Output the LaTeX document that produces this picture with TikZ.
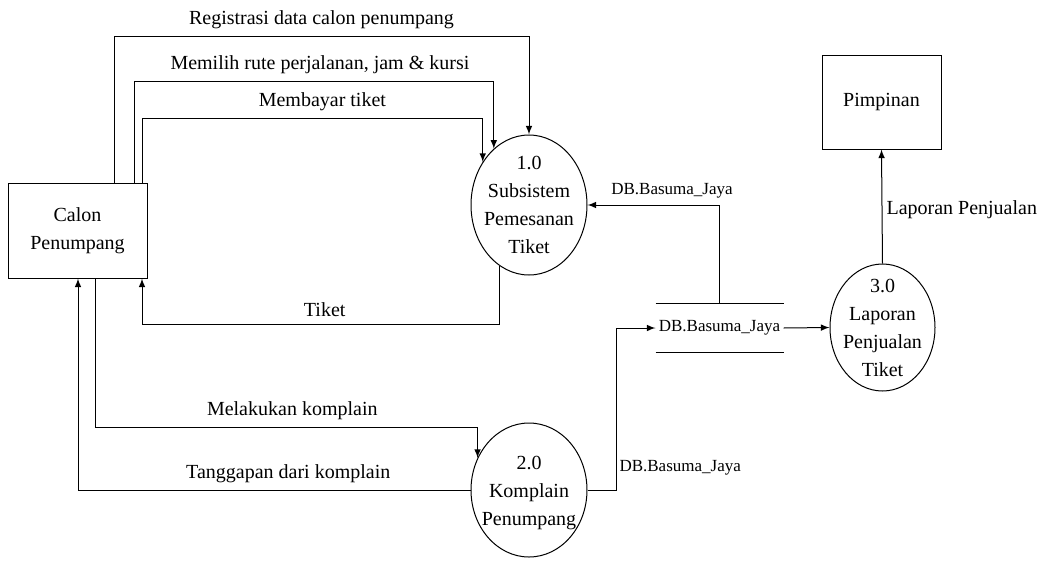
\documentclass[tikz,border=0pt]{standalone}
\usepackage{fontspec}
\setmainfont{Liberation Serif}
\usetikzlibrary{arrows,shapes.geometric}

\begin{document}
\begin{tikzpicture}[>=latex, x=0.5pt, y=-0.5pt, line width=0.5pt,
	font=\fontsize{10}{14}\selectfont,
	entitas/.style={draw, align=center, minimum width=69.5pt, minimum height=47.5pt},
	proses/.style={draw, ellipse, inner sep=0pt},
	kecil/.style={font=\fontsize{8.5}{10}\selectfont}]
	\useasboundingbox (0,0) rectangle (1040,563);
	%Entitas luar
	\node [entitas] (cp) at (77.5,230.5) {Calon\\Penumpang};
	\node [entitas, minimum width=59.5pt, minimum height=47pt] (pim) at (881.5,102) {Pimpinan};
	%Proses
	\node [proses, minimum width=58pt, minimum height=70pt] (p1) at (529,205) {};
	\node [align=center] (t1) at (p1) {1.0\\Subsistem\\Pemesanan\\Tiket};
	\node [proses, minimum width=58pt, minimum height=67pt] (p2) at (529,490) {};
	\node [align=center] (t2) at (529,493) {2.0\\Komplain\\Penumpang};
	\node [proses, minimum width=52.5pt, minimum height=63.5pt] (p3) at (882.5,327.5) {};
	\node [align=center] (t3) at (p3) {3.0\\Laporan\\Penjualan\\Tiket};
	%Data store
	\node [kecil, minimum width=63.5pt, minimum height=24pt, inner sep=0pt] (ds) at (719.5,328) {DB.Basuma\_Jaya};
	\draw (ds.north west) -- (ds.north east) (ds.south west) -- (ds.south east);
	%Titik belok
	\coordinate (reg) at (114,36);
	\coordinate (rute) at (134,81);
	\coordinate (bayar) at (142,118);
	\coordinate (tkt) at (142,324);
	\coordinate (kom) at (95,427);
	\coordinate (tgp) at (78,490);
	\coordinate (db) at (616,328);
	%Aliran data ke proses 1.0
	\draw [->] (cp.north -| reg) -- (reg) -| (p1.north) node [pos=0.25, above] {Registrasi data calon penumpang};
	\draw [->] (cp.north -| rute) -- (rute) -| (p1.122.1) node [pos=0.25, above, xshift=3pt] {Memilih rute perjalanan, jam \& kursi};
	\draw [->] (cp.north -| bayar) -- (bayar) -| (p1.137.2) node [pos=0.25, above, xshift=5pt] {Membayar tiket};
	\draw [->] (p1.244.4) |- (tkt) node [pos=0.75, above, xshift=2pt] {Tiket} -- (cp.south -| tkt);
	%Aliran data ke proses 2.0
	\draw [->] (cp.south -| kom) -- (kom) -| (p2.148) node [pos=0.25, above, xshift=3pt] {Melakukan komplain};
	\draw [->] (p2.west) -- node [above, xshift=7pt] {Tanggapan dari komplain} (tgp) -- (cp.south -| tgp);
	\draw [->] (p2.east) -| (db) node [pos=0.57, right, inner sep=1.5pt, kecil] {DB.Basuma\_Jaya} -- (ds.west);
	%Aliran data store
	\draw [->] (ds.north) |- (p1.east) node [pos=0.68, above, kecil] {DB.Basuma\_Jaya};
	\draw [->] (ds.east) -- (p3.west);
	\draw [->] (p3.north) -- node [pos=0.47, right, inner sep=2pt] {Laporan Penjualan} (pim.south);
\end{tikzpicture}
\end{document}
